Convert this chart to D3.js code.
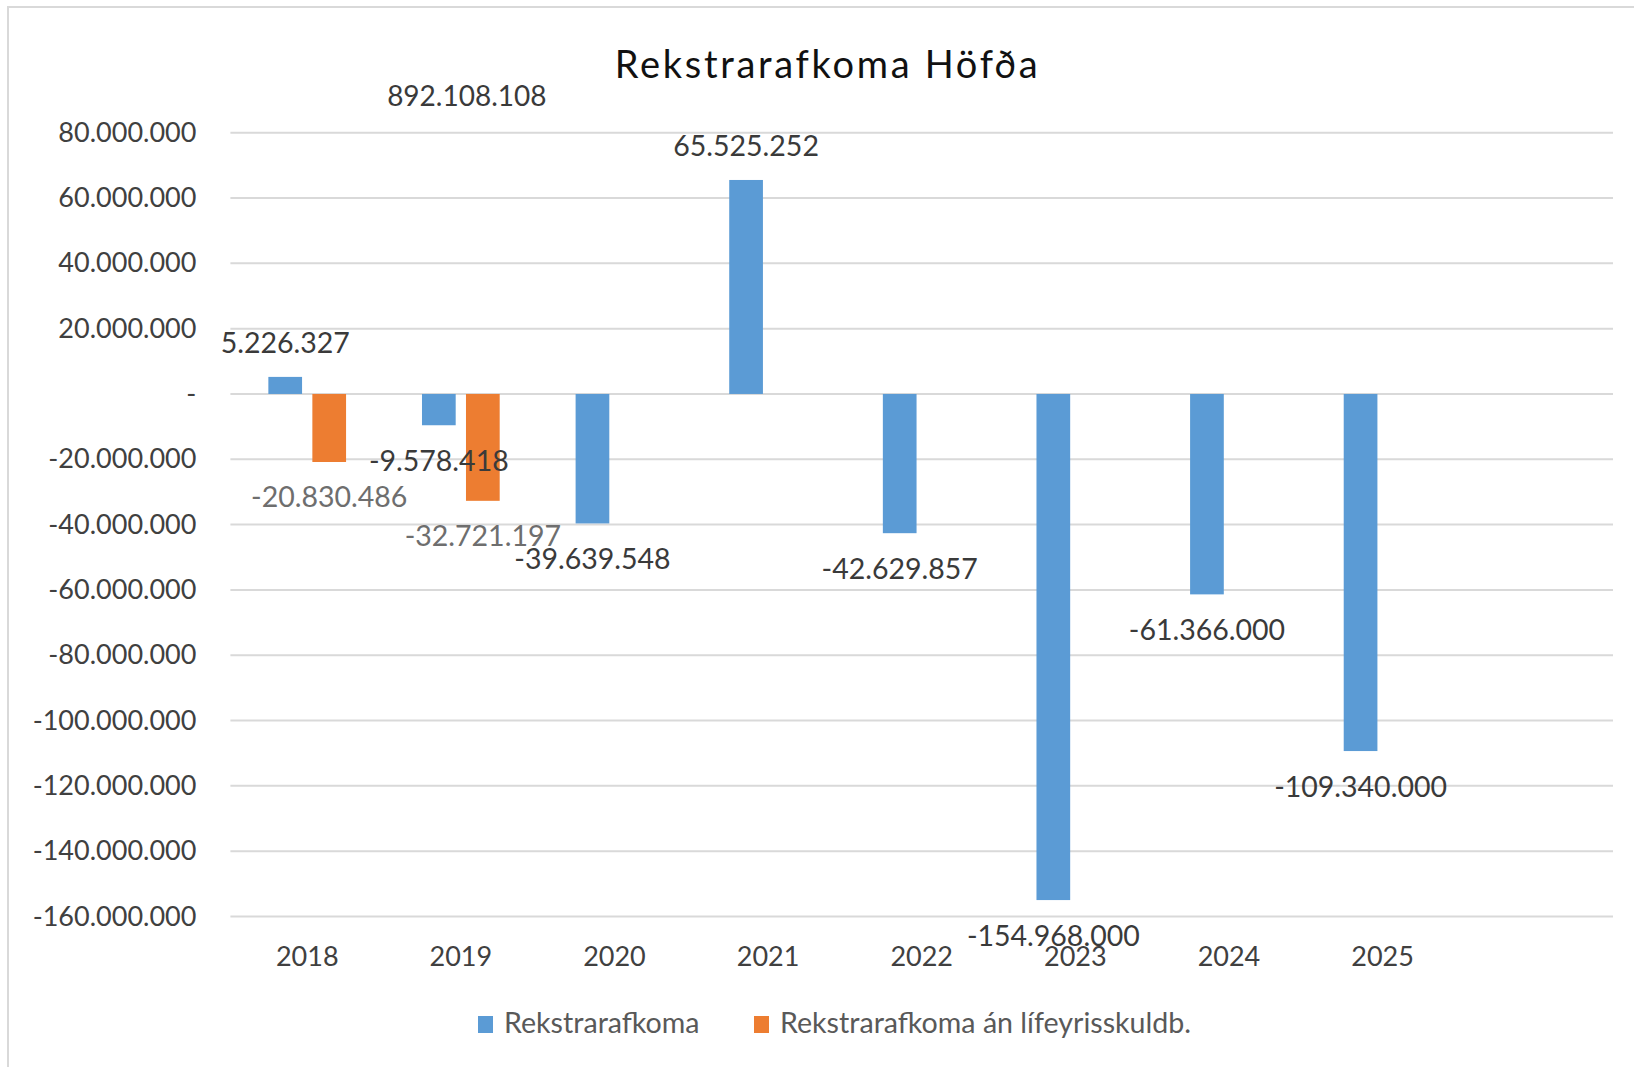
<!DOCTYPE html>
<html lang="is">
<head>
<meta charset="UTF-8">
<script src="https://cdn.jsdelivr.net/npm/d3@7/dist/d3.min.js"></script>
<title>Rekstrarafkoma Höfða</title>
<style>
  body { margin: 0; background: #fff; }
  text { font-family: Lato, "Open Sans", sans-serif; }
</style>
</head>
<body>
<svg id="chart"></svg>
<script>
// gögn lesin af myndinni
const years = ["2018", "2019", "2020", "2021", "2022", "2023", "2024", "2025"];
const rekstrarafkoma = [5226327, -9578418, -39639548, 65525252, -42629857, -154968000, -61366000, -109340000];
const anLifeyris = [-20830486, -32721197, null, null, null, null, null, null];
const seriesNames = ["Rekstrarafkoma", "Rekstrarafkoma án lífeyrisskuldb."];
const yTicks = [80000000, 60000000, 40000000, 20000000, 0, -20000000, -40000000, -60000000,
                -80000000, -100000000, -120000000, -140000000, -160000000];
// stakur merkimiði sem stendur fyrir ofan 2019 í frumritinu
const strayLabel = { year: "2019", value: 892108108 };

const W = 1634, H = 1067;
const margin = { top: 132.7, bottom: 150.5, left: 230.4, right: 21 };
const colors = ["#5B9BD5", "#ED7D31"];
const labelColors = ["#3a3a3a", "#6e6e6e"];

const svg = d3.select("#chart").attr("width", W).attr("height", H);
svg.append("rect").attr("width", W).attr("height", H).attr("fill", "#fff");
// rammi
svg.append("rect").attr("x", 8).attr("y", 7).attr("width", W + 20).attr("height", H + 20)
  .attr("fill", "none").attr("stroke", "#d9d9d9").attr("stroke-width", 2);

const is = d3.formatLocale({ decimal: ",", thousands: ".", grouping: [3], currency: ["", ""], minus: "-" });
const fmt = v => v === 0 ? "-" : is.format(",.0f")(v);

// eitt autt sæti aftast eins og í Excel
const x = d3.scaleBand().domain(years.concat([""])).range([margin.left, W - margin.right]).padding(0);
const y = d3.scaleLinear().domain([-160000000, 80000000]).range([H - margin.bottom, margin.top]);
const xs = d3.scaleBand().domain([0, 1]).range([-38.85, 38.85]).paddingInner(0.234);

svg.append("text").attr("x", 827.5).attr("y", 78).attr("text-anchor", "middle")
  .attr("font-size", 38).attr("letter-spacing", 2.7).attr("fill", "#111").text("Rekstrarafkoma Höfða");

// hnitalínur
svg.append("g").selectAll("line").data(yTicks).join("line")
  .attr("x1", margin.left).attr("x2", W - margin.right)
  .attr("y1", d => y(d)).attr("y2", d => y(d))
  .attr("stroke", "#d9d9d9").attr("stroke-width", 2);

const yAxis = d3.axisLeft(y).tickValues(yTicks).tickFormat(fmt).tickSize(0).tickPadding(34);
svg.append("g").attr("transform", `translate(${margin.left},0)`).call(yAxis)
  .call(g => g.select(".domain").remove())
  .call(g => g.selectAll("text").attr("font-size", 27).attr("fill", "#404040").attr("font-family", "Lato, sans-serif"));

const xAxis = d3.axisBottom(x).tickValues(years).tickSize(0).tickPadding(30);
svg.append("g").attr("transform", `translate(0,${y(-160000000)})`).call(xAxis)
  .call(g => g.select(".domain").remove())
  .call(g => g.selectAll("text").attr("font-size", 27).attr("fill", "#404040").attr("font-family", "Lato, sans-serif"));

const series = [rekstrarafkoma, anLifeyris];
const rows = [];
series.forEach((vals, s) => vals.forEach((v, i) => {
  if (v !== null) rows.push({ s, year: years[i], v });
}));
const cx = d => x(d.year) + x.bandwidth() / 2 + xs(d.s);

svg.append("g").selectAll("rect").data(rows).join("rect")
  .attr("x", cx).attr("width", xs.bandwidth())
  .attr("y", d => y(Math.max(0, d.v)))
  .attr("height", d => Math.abs(y(d.v) - y(0)))
  .attr("fill", d => colors[d.s]);

svg.append("g").selectAll("text").data(rows).join("text")
  .attr("x", d => cx(d) + xs.bandwidth() / 2)
  .attr("y", d => d.v >= 0 ? y(d.v) - 23.7 : y(d.v) + 45.5)
  .attr("text-anchor", "middle").attr("font-size", 28.5)
  .attr("fill", d => labelColors[d.s]).text(d => fmt(d.v));

svg.append("text")
  .attr("x", x(strayLabel.year) + x.bandwidth() / 2 + 6)
  .attr("y", y(80000000) - 27)
  .attr("text-anchor", "middle").attr("font-size", 28).attr("fill", labelColors[0])
  .text(fmt(strayLabel.value));

// skýringar
const legendX = [478, 754];
const leg = svg.append("g").selectAll("g").data(seriesNames).join("g")
  .attr("transform", (d, i) => `translate(${legendX[i]},1016)`);
leg.append("rect").attr("width", 15).attr("height", 17).attr("fill", (d, i) => colors[i]);
leg.append("text").attr("x", 26).attr("y", 17).attr("font-size", 28.6).attr("fill", "#595959").text(d => d);
</script>
</body>
</html>
